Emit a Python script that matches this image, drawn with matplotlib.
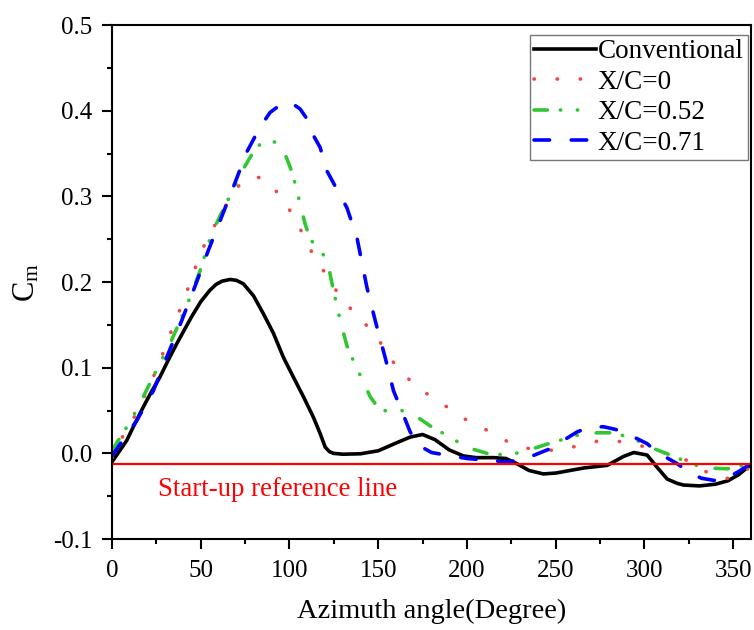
import matplotlib
matplotlib.use("Agg")
import matplotlib.pyplot as plt
from matplotlib.ticker import MultipleLocator

plt.rcParams["font.family"] = ["Liberation Serif", "DejaVu Serif"]
plt.rcParams["mathtext.fontset"] = "custom"
plt.rcParams["mathtext.rm"] = "Liberation Serif"
plt.rcParams["mathtext.it"] = "Liberation Serif:italic"

# values
conv_x = [0, 4, 8.3, 12.5, 17.6, 22, 27, 31.5, 36.5, 41, 45, 50, 55, 58.5, 62, 66.5, 70, 74, 79.7,
          85.3, 91, 96.6, 102.2, 107.9, 113.5, 117.3, 120.1, 122.5, 124.8, 130, 140, 150, 160,
          168, 175, 182, 190, 198, 205, 215, 222, 228, 235, 243, 250, 258, 266, 279, 288.3, 294,
          301.5, 307, 312.8, 318.4, 322, 331, 340, 347, 353, 360]
conv_y = [-0.01, 0.002, 0.015, 0.033, 0.054, 0.071, 0.089, 0.108, 0.128, 0.145, 0.16, 0.177, 0.19,
          0.197, 0.201, 0.203, 0.202, 0.198, 0.184, 0.163, 0.14, 0.112, 0.089, 0.066, 0.042, 0.023,
          0.0074, 0.002, 0.0, -0.001, -0.0005, 0.003, 0.012, 0.019, 0.022, 0.016, 0.004, -0.003,
          -0.005, -0.005, -0.006, -0.012, -0.02, -0.024, -0.023, -0.02, -0.017, -0.014, -0.0035,
          0.001, -0.002, -0.016, -0.03, -0.035, -0.037, -0.038, -0.036, -0.032, -0.025, -0.013]

xc0_x = [0, 3, 6.4, 13, 18.2, 23.3, 28, 32.7, 37.4, 41.7, 45.9, 49.6, 55.3, 61, 67.5, 72, 76, 81,
         86, 90, 95, 102, 108, 113.5, 120.5, 127.6, 136, 145.5, 152, 159.6, 168, 178.4, 189.6,
         200, 211.3, 223.5, 235.7, 248.8, 261, 273, 285.5, 297.7, 310, 322, 333.4, 342.8, 352, 360]
xc0_y = [-0.005, 0.008, 0.021, 0.044, 0.066, 0.089, 0.113, 0.139, 0.163, 0.186, 0.21, 0.233, 0.256,
         0.278, 0.301, 0.314, 0.32, 0.323, 0.32, 0.312, 0.3, 0.278, 0.254, 0.231, 0.209, 0.186,
         0.165, 0.145, 0.127, 0.103, 0.085, 0.068, 0.053, 0.0385, 0.027, 0.013, 0.005, 0.0035,
         0.008, 0.014, 0.014, 0.009, 0.0015, -0.006, -0.02, -0.03, -0.028, -0.015]

xc52_x = [0, 5, 10, 16.7, 23.3, 32.7, 39.3, 44, 49.6, 56.2, 63.7, 70, 74, 79.7, 84, 89, 93, 96.6,
          100.4, 103.2, 106, 108.8, 111.6, 116.3, 119, 122, 124.8, 128.6, 132.3, 136, 140.8, 145.5,
          149, 153, 158, 163.3, 168, 173.7, 180, 188.7, 200, 211.3, 222.5, 231, 239.5, 247, 253.6,
          262, 273.3, 280.8, 292, 303.4, 314.7, 324, 333.4, 346.6, 360]
xc52_y = [0.003, 0.02, 0.036, 0.062, 0.09, 0.128, 0.159, 0.182, 0.213, 0.257, 0.289, 0.315, 0.332,
          0.352, 0.362, 0.366, 0.362, 0.354, 0.334, 0.315, 0.291, 0.268, 0.25, 0.239, 0.232, 0.218,
          0.19, 0.155, 0.126, 0.108, 0.087, 0.066, 0.056, 0.05, 0.049, 0.05, 0.046, 0.04, 0.031,
          0.021, 0.007, 0.0, -0.002, 0.0015, 0.007, 0.012, 0.016, 0.021, 0.024, 0.024, 0.019,
          0.007, -0.002, -0.01, -0.017, -0.018, -0.012]

xc71_x = [0, 7, 13.9, 23.3, 30.8, 39.3, 47.7, 54.3, 61, 68.4, 76, 83.5, 89.1, 95, 100.4, 106, 110,
          113.5, 117.3, 121, 123.9, 128, 132.3, 138, 143.6, 148.3, 153.9, 158.6, 162.4, 168, 172.7,
          180, 186.8, 200, 211.3, 222, 230, 238, 247, 255, 262, 269.5, 277, 283.6, 290.2, 301.5,
          307, 318.4, 325, 332, 339, 344.7, 354, 360]
xc71_y = [-0.003, 0.018, 0.038, 0.073, 0.112, 0.155, 0.2, 0.237, 0.272, 0.311, 0.352, 0.381, 0.398,
          0.407, 0.41, 0.402, 0.39, 0.371, 0.357, 0.33, 0.319, 0.303, 0.287, 0.252, 0.194, 0.155,
          0.112, 0.073, 0.054, 0.025, 0.0095, 0.001, -0.0015, -0.006, -0.008, -0.01, -0.008, -0.002,
          0.0055, 0.016, 0.025, 0.031, 0.031, 0.028, 0.023, 0.0113, 0.0015, -0.012, -0.022, -0.029,
          -0.0315, -0.031, -0.02, -0.012]

ref_level = -0.013

fig = plt.figure(figsize=(7.54, 6.3), dpi=100)
ax = fig.add_axes([0.1485, 0.1444, 0.8475, 0.8159])

lw = 2.6
ax.plot(conv_x, conv_y, color="black", lw=lw, label="Conventional")
ax.plot(xc0_x, xc0_y, color="#f04848", lw=lw, dashes=(0.1, 6.3), dash_capstyle="round",
        label="X/C=0")
ax.plot(xc52_x, xc52_y, color="#33c633", lw=lw, dashes=(3.7, 3.6, 0.1, 4.6, 0.1, 5.3),
        dash_capstyle="round", label="X/C=0.52")
ax.plot(xc71_x, xc71_y, color="#0000ff", lw=lw, dashes=(4.3, 6.0), dash_capstyle="round",
        label="X/C=0.71")

ax.axhline(ref_level, color="#ff0000", lw=1.6)
ax.text(26, -0.05, "Start-up reference line", color="#ff0000", fontsize=19.3, va="baseline")

ax.set_xlim(0, 360)
ax.set_ylim(-0.1, 0.5)
ax.xaxis.set_major_locator(MultipleLocator(50))
ax.xaxis.set_minor_locator(MultipleLocator(25))
ax.yaxis.set_major_locator(MultipleLocator(0.1))
ax.yaxis.set_minor_locator(MultipleLocator(0.05))
ax.yaxis.set_major_formatter(plt.FuncFormatter(lambda v, p: "%.1f" % v))

ax.tick_params(which="major", direction="out", length=7, width=1.5, labelsize=18)
ax.tick_params(axis="x", which="major", pad=8)
ax.tick_params(axis="y", which="major", pad=7)
ax.tick_params(which="minor", direction="out", length=3.6, width=1.5)
for s in ax.spines.values():
    s.set_linewidth(1.5)

ax.set_xlabel("Azimuth angle(Degree)", fontsize=20.5, labelpad=12)
ax.set_ylabel(r"C$_\mathrm{m}$", fontsize=22, labelpad=8)

leg = ax.legend(loc="upper right", bbox_to_anchor=(0.995, 0.98), borderaxespad=0,
                fontsize=19.5, frameon=True, fancybox=False, framealpha=1,
                edgecolor="#777777", handlelength=2.3, handletextpad=0.05,
                labelspacing=0.2, borderpad=0.15)
leg.get_frame().set_linewidth(1.0)

fig.savefig("out.png", dpi=100)
